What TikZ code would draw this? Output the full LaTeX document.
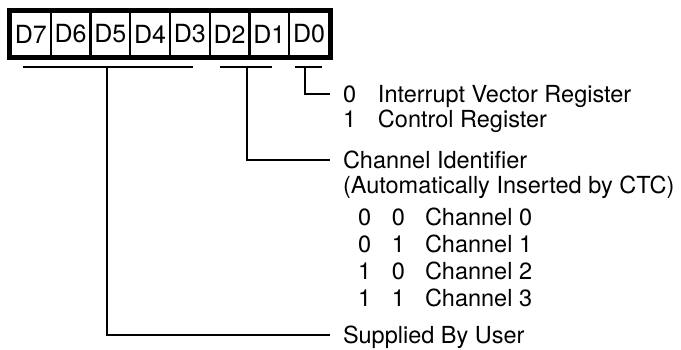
\documentclass[tikz,border=0pt]{standalone}
\usepackage{fontspec}
\setmainfont{TeX Gyre Heros}
\usepackage{tikz}
\usetikzlibrary{positioning}

\begin{document}
\begin{tikzpicture}[
    x=1pt, y=1pt,
    bitbox/.style={rectangle, draw=black, fill=white, line width=2.2pt, minimum width=39.75pt, minimum height=44pt, inner sep=0pt, outer sep=0pt, font=\fontsize{25}{25}\selectfont},
    regframe/.style={draw=black, line width=4.5pt},
    bar/.style={line width=1.8pt},
    lead/.style={line width=1.8pt},
    desc/.style={anchor=west, inner sep=0pt, outer xsep=13pt, text height=17pt, text depth=0pt, font=\fontsize{23.5}{23.5}\selectfont}
]
    \useasboundingbox (0,0) rectangle (681,-350);

    % Register cells
    \node[bitbox] (d7) at (30.875,-34) {D7};
    \node[bitbox, right=0pt of d7] (d6) {D6};
    \node[bitbox, right=0pt of d6] (d5) {D5};
    \node[bitbox, right=0pt of d5] (d4) {D4};
    \node[bitbox, right=0pt of d4] (d3) {D3};
    \node[bitbox, right=0pt of d3] (d2) {D2};
    \node[bitbox, right=0pt of d2] (d1) {D1};
    \node[bitbox, right=0pt of d1] (d0) {D0};
    \draw[regframe] ([shift={(-2,2)}]d7.north west) rectangle ([shift={(2,-2)}]d0.south east);

    % Field bars
    \coordinate (userL) at (23,-67);
    \coordinate (userR) at (193,-67);
    \coordinate (userT) at (107,-67);
    \coordinate (chanL) at (220,-67);
    \coordinate (chanR) at (272,-67);
    \coordinate (chanT) at (247,-67);
    \coordinate (typeL) at (295,-67);
    \coordinate (typeR) at (322,-67);
    \coordinate (typeT) at (305,-67);
    \draw[bar] (userL) -- (userR);
    \draw[bar] (chanL) -- (chanR);
    \draw[bar] (typeL) -- (typeR);

    % Descriptions
    \node[desc] (vreg) at (330,-94) {\makebox[35pt][l]{0}Interrupt Vector Register};
    \node[desc] (creg) at (330,-119) {\makebox[35pt][l]{1}Control Register};
    \node[desc] (chid) at (330,-160) {Channel Identifier};
    \node[desc] (auto) at (330,-185) {(Automatically Inserted by CTC)};
    \foreach \a/\b/\n [count=\i from 0] in {0/0/0, 0/1/1, 1/0/2, 1/1/3}
        \node[desc] (ch\n) at (330,-217-27*\i) {\hspace*{15pt}\makebox[34pt][l]{\a}\makebox[33pt][l]{\b}Channel \n};
    \node[desc] (user) at (330,-335) {Supplied By User};

    % Leads
    \draw[lead] (typeT) |- (vreg.west);
    \draw[lead] (chanT) |- (chid.west);
    \draw[lead] (userT) |- (user.west);
\end{tikzpicture}
\end{document}
